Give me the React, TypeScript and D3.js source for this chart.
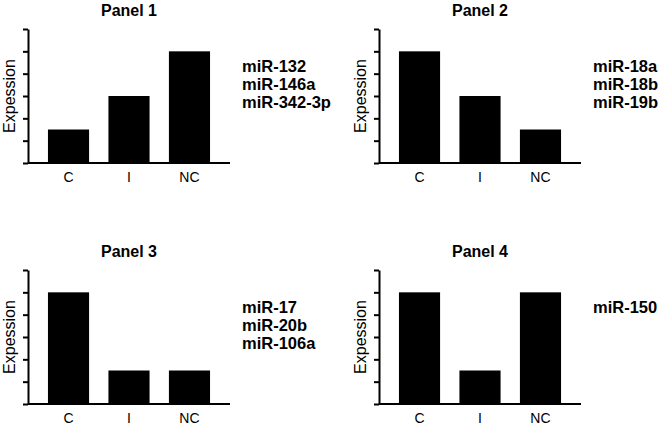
import * as d3 from 'd3'
import { FC, useRef, useEffect } from 'react'

const categories = ['C', 'I', 'NC']
const panelTitles = ['Panel 1', 'Panel 2', 'Panel 3', 'Panel 4']
const yTicks = [0, 1, 2, 3, 4, 5, 6]

const panel1Values = [1.5, 3, 5]
const panel2Values = [5, 3, 1.5]
const panel3Values = [5, 1.5, 1.5]
const panel4Values = [5, 1.5, 5]

const panel1Genes = ['miR-132', 'miR-146a', 'miR-342-3p']
const panel2Genes = ['miR-18a', 'miR-18b', 'miR-19b']
const panel3Genes = ['miR-17', 'miR-20b', 'miR-106a']
const panel4Genes = ['miR-150']

const FONT = '"Liberation Sans", Arial, Helvetica, sans-serif'

const dims = { width: 202, height: 134 }

type PanelProps = {
    title: string,
    values: number[],
    genes: string[],
    x0: number,
    y0: number,
}

const Panel: FC<PanelProps> = ({ title, values, genes, x0, y0 }) => {
    const yAxisRef = useRef<SVGGElement>(null)

    const x = d3.scaleBand()
        .domain(categories)
        .range([0, dims.width])
        .paddingInner(0.32)
        .paddingOuter(0.33)

    const y = d3.scaleLinear()
        .domain([0, 6])
        .range([dims.height, 0])

    useEffect(() => {
        const g = d3.select(yAxisRef.current)
        g.selectAll('*').remove()
        g.call(
            d3.axisLeft(y)
                .tickValues(yTicks)
                .tickFormat(() => '')
                .tickSize(5)
                .tickSizeOuter(0)
        )
        g.select('.domain').attr('stroke', '#000').attr('stroke-width', 2)
        g.selectAll('.tick line').attr('stroke', '#000').attr('stroke-width', 2)
    }, [])

    return (
        <g transform={`translate(${x0},${y0})`}>
            <text
                x={dims.width / 2}
                y={-13}
                textAnchor="middle"
                fontFamily={FONT}
                fontWeight="bold"
                fontSize={16}
            >
                {title}
            </text>
            {values.map((v, i) => (
                <rect
                    key={categories[i]}
                    x={x(categories[i])}
                    y={y(v)}
                    width={x.bandwidth()}
                    height={dims.height - y(v)}
                    fill="#000"
                />
            ))}
            <g ref={yAxisRef} />
            <line x1={0} x2={dims.width} y1={dims.height} y2={dims.height} stroke="#000" strokeWidth={2} />
            {categories.map(c => (
                <text
                    key={c}
                    x={x(c)! + x.bandwidth() / 2}
                    y={dims.height + 19}
                    textAnchor="middle"
                    fontFamily={FONT}
                    fontSize={14}
                >
                    {c}
                </text>
            ))}
            <text
                transform={`translate(${-13.5},${dims.height / 2}) rotate(-90)`}
                textAnchor="middle"
                fontFamily={FONT}
                fontSize={16}
            >
                Expession
            </text>
            {genes.map((gname, i) => (
                <text
                    key={gname}
                    x={dims.width + 12}
                    y={42.5 + i * 18.3}
                    fontFamily={FONT}
                    fontWeight="bold"
                    fontSize={16.5}
                >
                    {gname}
                </text>
            ))}
        </g>
    )
}

const App: FC = () => {
    return (
        <svg
            width={661}
            height={426}
            style={{ position: 'absolute', left: 0, top: 0, background: '#fff' }}
        >
            <Panel title={panelTitles[0]} values={panel1Values} genes={panel1Genes} x0={28} y0={29} />
            <Panel title={panelTitles[1]} values={panel2Values} genes={panel2Genes} x0={379} y0={29} />
            <Panel title={panelTitles[2]} values={panel3Values} genes={panel3Genes} x0={28} y0={270} />
            <Panel title={panelTitles[3]} values={panel4Values} genes={panel4Genes} x0={379} y0={270} />
        </svg>
    )
}

export default App
